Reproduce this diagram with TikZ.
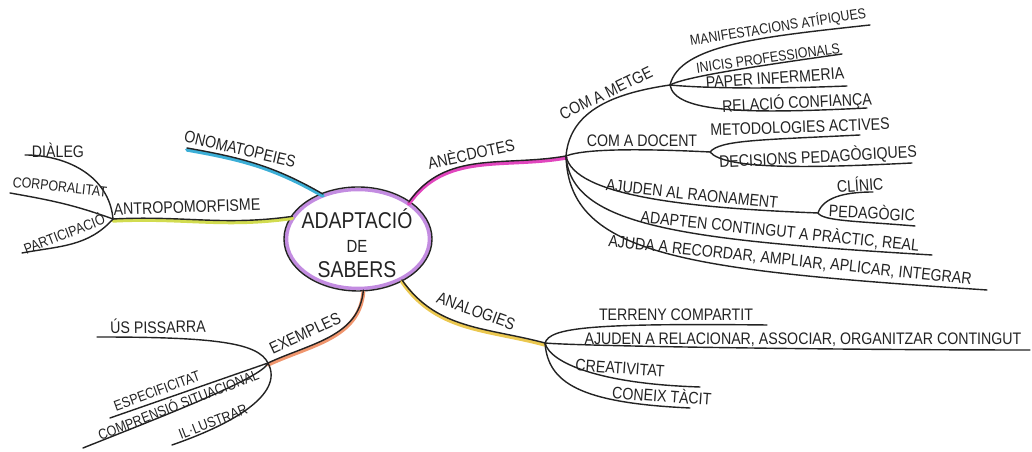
\documentclass[tikz,border=0pt]{standalone}
\usepackage{fontspec}
\usetikzlibrary{shapes.geometric}
\newfontfamily\hand[FakeStretch=0.85]{Liberation Sans}
\definecolor{inkc}{RGB}{35,35,35}
\definecolor{lila}{RGB}{195,140,225}
\definecolor{cian}{RGB}{60,175,215}
\definecolor{llima}{RGB}{210,220,80}
\definecolor{taronja}{RGB}{240,150,110}
\definecolor{groc}{RGB}{235,200,80}
\definecolor{rosa}{RGB}{225,70,190}
\begin{document}
\begin{tikzpicture}[x=0.02cm,y=0.02cm,line cap=round,line join=round,
  ink/.style={draw=inkc,line width=0.8pt},
  tinta/.style={ink,preaction={draw=#1,line width=2.2pt,transform canvas={yshift=-1pt}}},
  lbl/.style={font=\hand\fontsize{9.5}{11}\selectfont,text=inkc,inner sep=0pt},
  lbs/.style={lbl,font=\hand\fontsize{8.3}{10}\selectfont}]
\useasboundingbox (0,0) rectangle (1032,452);
\node[ellipse,draw=lila,line width=2pt,minimum width=2.86cm,minimum height=1.98cm] (core) at (358,213) {};
\draw[ink] (core.center) ellipse (74 and 52);
\node[lbl,align=center,font=\hand\fontsize{13}{14}\selectfont] (title) at (357,209) {ADAPTACIÓ\\{\fontsize{10}{14}\selectfont DE}\\SABERS};
\coordinate (aH) at (113,233);
\coordinate (eH) at (268,89);
\coordinate (nH) at (545,109);
\coordinate (dH) at (566,296);
\coordinate (mH) at (670,367);
\coordinate (oH) at (710,300);
\coordinate (rH) at (818,239);
\foreach \n/\x/\y in {ono/187/304,dial/25/297,corp/10/259,part/22/199,pis/97/115,esp/110/34,comp/83/4,ill/172/7,
  terr/767/127,rel/1030/102,crea/700/65,tac/690/44,manif/870/427,inic/842/398,paper/847/366,conf/867/344,
  metod/860/317,decis/912/289,clin/873/260,pedag/915/226,adapt/932/197,ajuda/987/162}
  \coordinate (\n-e) at (\x,\y);
\draw[tinta=cian] (ono-e) to[out=-10,in=150] (core.128);
\draw[tinta=llima] (aH) to[out=3,in=188] (core.161);
\draw[tinta=taronja] (core.276) to[out=-95,in=25] (eH);
\draw[tinta=groc] (core.317) to[out=-55,in=165] (nH);
\draw[tinta=rosa] (core.36) to[out=55,in=190] (dH);
\draw[ink] (aH) to[out=95,in=0] (dial-e);
\draw[ink] (aH) to[out=160,in=-10] (corp-e);
\draw[ink] (aH) .. controls +(-25,-28) and +(37,7) .. (part-e);
\draw[ink] (eH) .. controls +(-10,20) and +(120,0) .. (pis-e);
\draw[ink] (eH) -- (esp-e);
\draw[ink] (eH) .. controls +(-5,-15) and +(70,28) .. (comp-e);
\draw[ink] (eH) .. controls +(17,-32) and +(58,20) .. (ill-e);
\draw[ink] (nH) .. controls +(5,15) and +(-180,2) .. (terr-e);
\draw[ink] (nH) .. controls +(30,-3) and +(-200,0) .. (rel-e);
\draw[ink] (nH) .. controls +(5,-20) and +(-100,3) .. (crea-e);
\draw[ink] (nH) .. controls +(3,-40) and +(-110,5) .. (tac-e);
\draw[ink] (dH) .. controls +(4,46) and +(-55,-8) .. (mH);
\draw[ink] (dH) .. controls +(20,8) and +(-60,3) .. (oH);
\draw[ink] (dH) .. controls +(8,-40) and +(-130,5) .. (rH);
\draw[ink] (dH) .. controls +(5,-70) and +(-250,15) .. (adapt-e);
\draw[ink] (dH) .. controls +(3,-100) and +(-300,20) .. (ajuda-e);
\draw[ink] (mH) .. controls +(10,40) and +(-110,-12) .. (manif-e);
\draw[ink] (mH) .. controls +(15,8) and +(-92,-13) .. (inic-e);
\draw[ink] (mH) .. controls +(20,-2) and +(-100,-4) .. (paper-e);
\draw[ink] (mH) .. controls +(5,-28) and +(-120,-6) .. (conf-e);
\draw[ink] (oH) .. controls +(10,12) and +(-100,-5) .. (metod-e);
\draw[ink] (oH) .. controls +(15,-18) and +(-100,-5) .. (decis-e);
\draw[ink] (rH) .. controls +(5,15) and +(-30,0) .. (clin-e);
\draw[ink] (rH) .. controls +(5,-8) and +(-60,5) .. (pedag-e);
\foreach \n/\x/\y/\r/\t in {ono/240/303/-13/ONOMATOPEIES,antro/187/245/2/ANTROPOMORFISME,
  exe/305/119/25/EXEMPLES,ana/476/141/-20/ANALOGIES,anec/471/299/12/ANÈCDOTES,
  dial/58/302/0/DIÀLEG,pis/158/126/1/ÚS PISSARRA,
  terr/676/137/0/TERRENY COMPARTIT,rel/803/112/0/{AJUDEN A RELACIONAR, ASSOCIAR, ORGANITZAR CONTINGUT},
  crea/620/84/-4/CREATIVITAT,tac/662/57/-4/CONEIX TÀCIT,
  metge/606/359/26/COM A METGE,paper/775/374/4/PAPER INFERMERIA,conf/797/349/3/RELACIÓ CONFIANÇA,
  docent/642/311/0/COM A DOCENT,metod/800/325/2/METODOLOGIES ACTIVES,decis/818/295/3/DECISIONS PEDAGÒGIQUES,
  raon/692/258/-6/AJUDEN AL RAONAMENT,clin/860/268/4/CLÍNIC,pedag/872/240/-3/PEDAGÒGIC,
  adapt/780/221/-6/{ADAPTEN CONTINGUT A PRÀCTIC, REAL},ajuda/790/191/-6/{AJUDA A RECORDAR, AMPLIAR, APLICAR, INTEGRAR}}
  \node[lbl,rotate=\r] (\n) at (\x,\y) {\t};
\foreach \n/\x/\y/\r/\t in {corp/60/265/-6/CORPORALITAT,part/64/219/21/PARTICIPACIÓ,
  esp/157/61/20/ESPECIFICITAT,comp/178/48/21/COMPRENSIÓ SITUACIONAL,ill/213/30/21/IL·LUSTRAR,
  manif/778/425/9/MANIFESTACIONS ATÍPIQUES,inic/768/394/8/INICIS PROFESSIONALS}
  \node[lbs,rotate=\r] (\n) at (\x,\y) {\t};
\end{tikzpicture}
\end{document}
